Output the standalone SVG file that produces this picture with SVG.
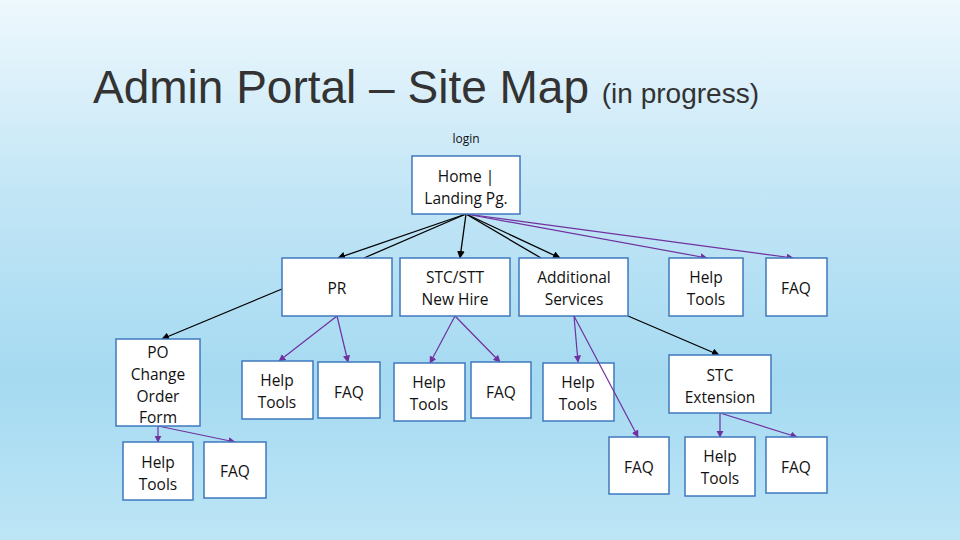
<svg xmlns="http://www.w3.org/2000/svg" width="960" height="540" viewBox="0 0 960 540">
<defs>
<linearGradient id="bg" x1="0" y1="0" x2="0" y2="1">
<stop offset="0" stop-color="#eef8fd"/><stop offset="0.35" stop-color="#c3e6f6"/><stop offset="0.7" stop-color="#a5daf1"/><stop offset="1" stop-color="#bde5f6"/>
</linearGradient>
<marker id="ab" viewBox="0 0 10 10" refX="9" refY="5" markerWidth="6" markerHeight="6" orient="auto"><path d="M0,0L10,5L0,10z" fill="#000"/></marker>
<marker id="ap" viewBox="0 0 10 10" refX="9" refY="5" markerWidth="6" markerHeight="6" orient="auto"><path d="M0,0L10,5L0,10z" fill="#7030a0"/></marker>
<style>
.n rect{fill:#fff;stroke:#3f78bd;stroke-width:1.5}
.n text,.l{font-family:"Open Sans","Liberation Sans",sans-serif;font-size:15.5px;fill:#111;text-anchor:middle}
.b{stroke:#000;stroke-width:1.3;fill:none}
.p{stroke:#7030a0;stroke-width:1.2;fill:none}
</style>
</defs>
<rect width="960" height="540" fill="url(#bg)"/>
<text x="93" y="103" font-family="Liberation Sans,Arial,sans-serif" font-size="46" fill="#333">Admin Portal – Site Map <tspan font-size="28">(in progress)</tspan></text>
<text class="l" x="466" y="143" style="font-size:12px">login</text>
<g id="connectors">
<line class="b" x1="466" y1="214" x2="338" y2="258" marker-end="url(#ab)"/>
<line class="b" x1="466" y1="214" x2="364" y2="258"/>
<line class="b" x1="466" y1="214" x2="460" y2="258" marker-end="url(#ab)"/>
<line class="b" x1="466" y1="214" x2="541" y2="258"/>
<line class="b" x1="466" y1="214" x2="560" y2="258" marker-end="url(#ab)"/>
<line class="p" x1="466" y1="214" x2="707" y2="258" marker-end="url(#ap)"/>
<line class="p" x1="466" y1="214" x2="793" y2="258" marker-end="url(#ap)"/>
<line class="b" x1="282" y1="289" x2="162" y2="339" marker-end="url(#ab)"/>
<line class="p" x1="337" y1="316" x2="279" y2="361" marker-end="url(#ap)"/>
<line class="p" x1="337" y1="316" x2="348" y2="362" marker-end="url(#ap)"/>
<line class="p" x1="455" y1="316" x2="430" y2="363" marker-end="url(#ap)"/>
<line class="p" x1="455" y1="316" x2="500" y2="362" marker-end="url(#ap)"/>
<line class="p" x1="574" y1="316" x2="578" y2="362" marker-end="url(#ap)"/>
<line class="b" x1="628" y1="316" x2="719" y2="355" marker-end="url(#ab)"/>
<line class="p" x1="158" y1="426" x2="158" y2="442" marker-end="url(#ap)"/>
<line class="p" x1="158" y1="426" x2="235" y2="442" marker-end="url(#ap)"/>
<line class="p" x1="720" y1="413" x2="720" y2="437" marker-end="url(#ap)"/>
<line class="p" x1="720" y1="413" x2="797" y2="437" marker-end="url(#ap)"/>
</g>
<g id="home" class="n"><rect x="412" y="156" width="108" height="58"/><text x="466" y="182">Home |</text><text x="466" y="204">Landing Pg.</text></g>
<g id="pr" class="n"><rect x="282" y="258" width="110" height="58"/><text x="337" y="294">PR</text></g>
<g id="stc" class="n"><rect x="400" y="258" width="110" height="58"/><text x="455" y="283">STC/STT</text><text x="455" y="305">New Hire</text></g>
<g id="add" class="n"><rect x="519" y="258" width="109" height="58"/><text x="574" y="283">Additional</text><text x="574" y="305">Services</text></g>
<g id="help1" class="n"><rect x="669" y="258" width="74" height="58"/><text x="706" y="283">Help</text><text x="706" y="305">Tools</text></g>
<g id="faq1" class="n"><rect x="766" y="258" width="61" height="58"/><text x="796" y="294">FAQ</text></g>
<g id="po" class="n"><rect x="116" y="339" width="84" height="87"/><text x="158" y="358">PO</text><text x="158" y="380">Change</text><text x="158" y="402">Order</text><text x="158" y="423">Form</text></g>
<g id="help2" class="n"><rect x="242" y="361" width="71" height="58"/><text x="277" y="386">Help</text><text x="277" y="408">Tools</text></g>
<g id="faq2" class="n"><rect x="318" y="362" width="62" height="56"/><text x="349" y="398">FAQ</text></g>
<g id="help3" class="n"><rect x="394" y="363" width="71" height="58"/><text x="429" y="388">Help</text><text x="429" y="410">Tools</text></g>
<g id="faq3" class="n"><rect x="471" y="362" width="60" height="56"/><text x="501" y="398">FAQ</text></g>
<g id="help4" class="n"><rect x="543" y="363" width="71" height="58"/><text x="578" y="388">Help</text><text x="578" y="410">Tools</text></g>
<g id="stcext" class="n"><rect x="669" y="355" width="102" height="58"/><text x="720" y="381">STC</text><text x="720" y="403">Extension</text></g>
<g id="help5" class="n"><rect x="123" y="442" width="70" height="58"/><text x="158" y="468">Help</text><text x="158" y="490">Tools</text></g>
<g id="faq5" class="n"><rect x="204" y="442" width="62" height="56"/><text x="235" y="477">FAQ</text></g>
<g id="faq6" class="n"><rect x="609" y="437" width="60" height="57"/><text x="639" y="473">FAQ</text></g>
<g id="help6" class="n"><rect x="685" y="437" width="70" height="59"/><text x="720" y="462">Help</text><text x="720" y="484">Tools</text></g>
<g id="faq7" class="n"><rect x="766" y="437" width="61" height="56"/><text x="796" y="473">FAQ</text></g>
<g id="connectors-over">
<line class="p" x1="574" y1="316" x2="638" y2="437" marker-end="url(#ap)"/>
</g>
</svg>
